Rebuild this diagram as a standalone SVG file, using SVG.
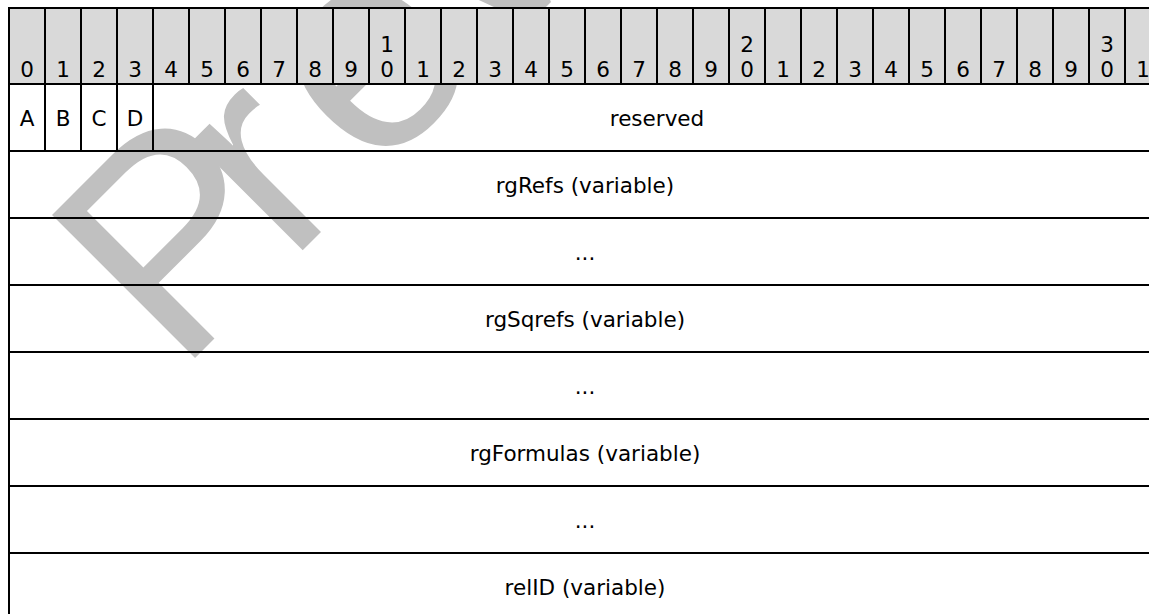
<svg xmlns="http://www.w3.org/2000/svg" width="1149" height="614" viewBox="0 0 1149 614">
<style>
.wm{font-family:"Liberation Sans",Arial,sans-serif;font-size:294px;fill:#c0c0c0}
.hd{fill:#d9d9d9}
.ln{stroke:#000;stroke-width:2;fill:none}
.t{font-family:"DejaVu Sans",Verdana,sans-serif;font-size:21.5px;fill:#000;text-anchor:middle}
</style>
<rect x="0" y="0" width="1149" height="614" fill="#fff"/>
<g id="watermark" transform="translate(178 375) rotate(-45)">
<text class="wm" x="0 156 276" y="0">Preview</text>
</g>
<g id="header">
<rect class="hd" x="9" y="8" width="1152" height="76"/>
<text class="t" x="27" y="77">0</text>
<text class="t" x="63" y="77">1</text>
<text class="t" x="99" y="77">2</text>
<text class="t" x="135" y="77">3</text>
<text class="t" x="171" y="77">4</text>
<text class="t" x="207" y="77">5</text>
<text class="t" x="243" y="77">6</text>
<text class="t" x="279" y="77">7</text>
<text class="t" x="315" y="77">8</text>
<text class="t" x="351" y="77">9</text>
<text class="t" x="387" y="52">1</text>
<text class="t" x="387" y="77">0</text>
<text class="t" x="423" y="77">1</text>
<text class="t" x="459" y="77">2</text>
<text class="t" x="495" y="77">3</text>
<text class="t" x="531" y="77">4</text>
<text class="t" x="567" y="77">5</text>
<text class="t" x="603" y="77">6</text>
<text class="t" x="639" y="77">7</text>
<text class="t" x="675" y="77">8</text>
<text class="t" x="711" y="77">9</text>
<text class="t" x="747" y="52">2</text>
<text class="t" x="747" y="77">0</text>
<text class="t" x="783" y="77">1</text>
<text class="t" x="819" y="77">2</text>
<text class="t" x="855" y="77">3</text>
<text class="t" x="891" y="77">4</text>
<text class="t" x="927" y="77">5</text>
<text class="t" x="963" y="77">6</text>
<text class="t" x="999" y="77">7</text>
<text class="t" x="1035" y="77">8</text>
<text class="t" x="1071" y="77">9</text>
<text class="t" x="1107" y="52">3</text>
<text class="t" x="1107" y="77">0</text>
<text class="t" x="1143" y="77">1</text>
</g>
<g id="field-A"><text class="t" x="27" y="126">A</text></g>
<g id="field-B"><text class="t" x="63" y="126">B</text></g>
<g id="field-C"><text class="t" x="99" y="126">C</text></g>
<g id="field-D"><text class="t" x="135" y="126">D</text></g>
<g id="field-reserved"><text class="t" x="657" y="126">reserved</text></g>
<g id="field-rgRefs"><text class="t" x="585" y="193">rgRefs (variable)</text></g>
<g id="field-rgRefs-cont"><text class="t" x="585" y="260">...</text></g>
<g id="field-rgSqrefs"><text class="t" x="585" y="327">rgSqrefs (variable)</text></g>
<g id="field-rgSqrefs-cont"><text class="t" x="585" y="394">...</text></g>
<g id="field-rgFormulas"><text class="t" x="585" y="461">rgFormulas (variable)</text></g>
<g id="field-rgFormulas-cont"><text class="t" x="585" y="528">...</text></g>
<g id="field-relID"><text class="t" x="585" y="595">relID (variable)</text></g>
<g id="grid">
<path class="ln" d="M9 8H1161M9 84H1161M9 151H1161M9 218H1161M9 285H1161M9 352H1161M9 419H1161M9 486H1161M9 553H1161M9 7V614"/>
<path class="ln" d="M45 8V151M81 8V151M117 8V151M153 8V151M189 8V84M225 8V84M261 8V84M297 8V84M333 8V84M369 8V84M405 8V84M441 8V84M477 8V84M513 8V84M549 8V84M585 8V84M621 8V84M657 8V84M693 8V84M729 8V84M765 8V84M801 8V84M837 8V84M873 8V84M909 8V84M945 8V84M981 8V84M1017 8V84M1053 8V84M1089 8V84M1125 8V84"/>
</g>
</svg>
